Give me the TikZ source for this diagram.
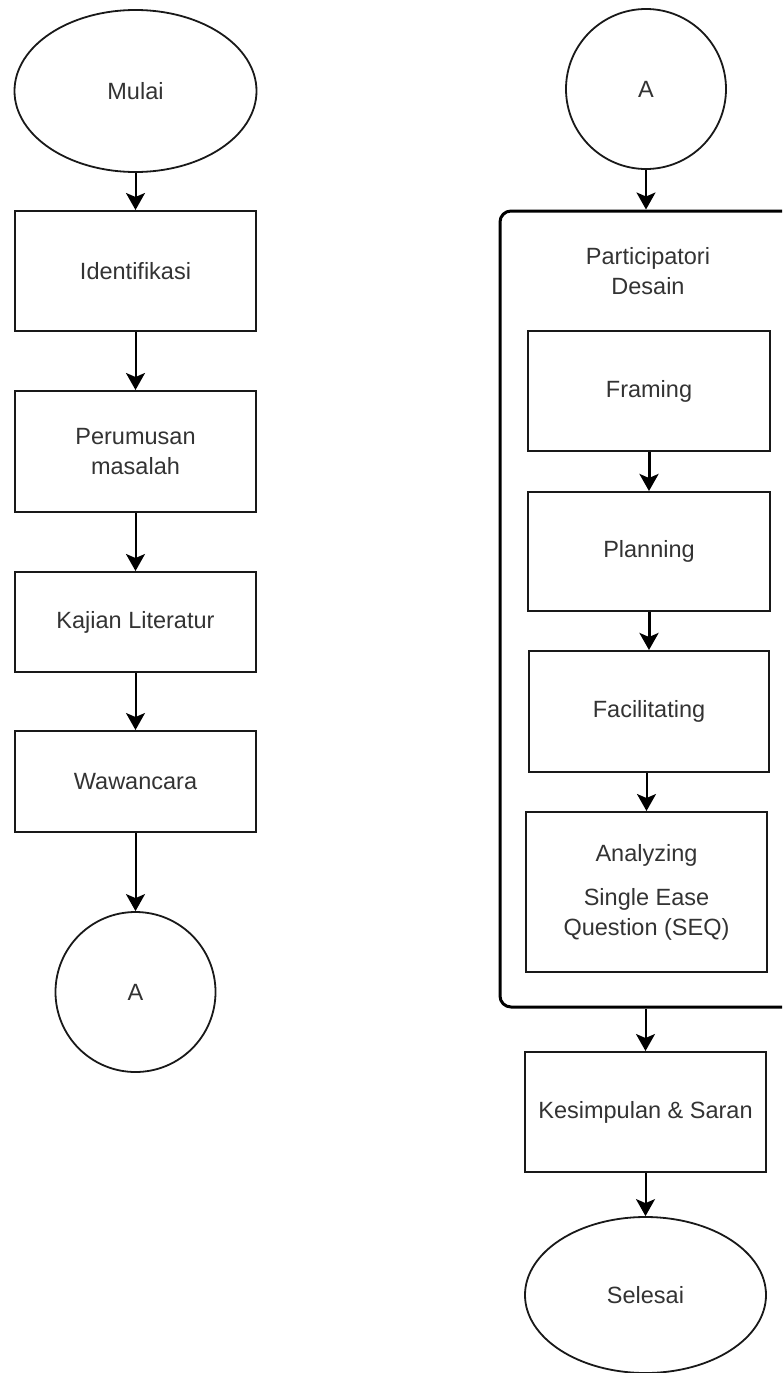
\documentclass[tikz,border=0pt]{standalone}
\usepackage{fontspec}
\setmainfont{Liberation Sans}
\usetikzlibrary{arrows.meta,shapes.geometric}

\tikzset{
  lbl/.style={font=\fontsize{23.5}{30}\selectfont, text=black!80, align=center},
  procbox/.style={lbl, draw=black!90, line width=2pt, rectangle, inner sep=0pt,
                  minimum width=241pt},
  terminal/.style={lbl, draw=black!90, line width=1.8pt, ellipse, inner sep=0pt},
  connector/.style={lbl, draw=black!90, line width=1.8pt, circle, inner sep=0pt,
                    minimum size=160pt},
  groupbox/.style={draw=black, line width=3pt, rectangle, rounded corners=11pt,
                   inner sep=0pt},
  flow/.style={draw=black, line width=2pt,
               -{Stealth[length=17pt 0 0,width=19pt 0 0,inset=4pt 0]}},
  flowthick/.style={flow, line width=3pt},
}

\begin{document}
\begin{tikzpicture}[x=1pt,y=-1pt]
\useasboundingbox (0,0) rectangle (782,1373);
\fill[white] (0,0) rectangle (782,1373);
\begin{scope}
\clip (0,0) rectangle (782,1373);

% ---- left column ----
\node[terminal, minimum width=242pt, minimum height=162pt] (mulai) at (135.5,91) {Mulai};
\node[procbox, minimum height=120pt] (ident) at (135.5,271) {Identifikasi};
\node[procbox, minimum height=121pt] (rumus) at (135.5,451.5) {Perumusan\\masalah};
\node[procbox, minimum height=100pt] (kajian) at (135.5,622) {Kajian Literatur};
\node[procbox, minimum height=101pt] (wawan) at (135.5,781.5) {Wawancara};
\node[connector] (aout) at (135.5,992) {A};

\draw[flow] (mulai.south) -- (ident.north);
\draw[flow] (ident.south) -- (rumus.north);
\draw[flow] (rumus.south) -- (kajian.north);
\draw[flow] (kajian.south) -- (wawan.north);
\draw[flow] (wawan.south) -- (aout.north);

% ---- right column ----
\node[connector] (ain) at (646,89) {A};
\node[groupbox, minimum width=310pt, minimum height=796pt] (pd) at (655,609) {};
\node[lbl] (pdtitle) at (648,271) {Participatori\\Desain};
\node[procbox, minimum width=242pt, minimum height=120pt] (framing) at (649,391) {Framing};
\node[procbox, minimum width=242pt, minimum height=119pt] (planning) at (649,551.5) {Planning};
\node[procbox, minimum width=240pt, minimum height=121pt] (facil) at (649,711.5) {Facilitating};
\node[procbox, minimum height=160pt] (analyz) at (646.5,892) {Analyzing\\[14pt]Single Ease\\Question (SEQ)};
\node[procbox, minimum height=120pt] (simpul) at (645.5,1112) {Kesimpulan \& Saran};
\node[terminal, minimum width=241pt, minimum height=156pt] (selesai) at (645.5,1295) {Selesai};

\draw[flow] (ain.south) -- (ain.south |- pd.north);
\draw[flowthick] (framing.south) -- (planning.north);
\draw[flowthick] (planning.south) -- (facil.north);
\draw[flow] (analyz.north |- facil.south) -- (analyz.north);
\draw[flow] (simpul.north |- pd.south) -- (simpul.north);
\draw[flow] (simpul.south) -- (selesai.north);
\end{scope}
\end{tikzpicture}
\end{document}
